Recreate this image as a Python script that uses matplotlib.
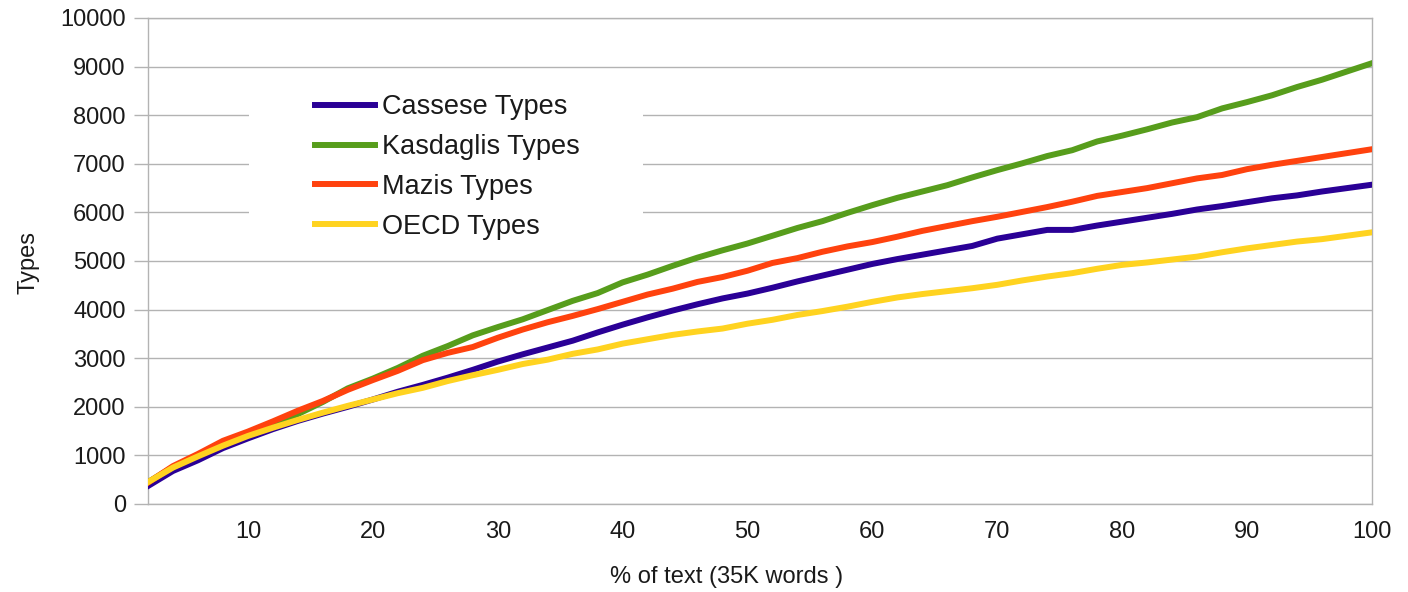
import matplotlib
matplotlib.use("Agg")
import matplotlib.pyplot as plt
from matplotlib.patches import Rectangle

plt.rcParams['font.family'] = ['Liberation Sans', 'DejaVu Sans']

x_pct = list(range(2, 101, 2))

cassese = [370, 680, 900, 1150, 1350, 1540, 1710, 1860, 2000, 2150,
           2310, 2450, 2600, 2760, 2930, 3080, 3220, 3360, 3530, 3690,
           3840, 3980, 4110, 4230, 4330, 4450, 4580, 4700, 4820, 4940,
           5040, 5130, 5220, 5310, 5460, 5550, 5640, 5640, 5730, 5810,
           5890, 5970, 6060, 6130, 6210, 6290, 6350, 6430, 6500, 6570]

kasdaglis = [450, 760, 1000, 1250, 1450, 1650, 1850, 2100, 2380, 2580,
             2800, 3050, 3250, 3470, 3640, 3800, 3990, 4180, 4340, 4560,
             4720, 4900, 5070, 5220, 5360, 5520, 5680, 5820, 5990, 6150,
             6300, 6430, 6560, 6720, 6870, 7010, 7160, 7280, 7460, 7580,
             7710, 7850, 7960, 8140, 8270, 8410, 8580, 8730, 8900, 9070]

mazis = [440, 780, 1030, 1300, 1490, 1700, 1920, 2120, 2350, 2550,
         2740, 2960, 3110, 3230, 3420, 3590, 3740, 3870, 4010, 4160,
         4310, 4430, 4570, 4670, 4800, 4960, 5060, 5190, 5300, 5390,
         5500, 5620, 5720, 5820, 5910, 6010, 6110, 6220, 6340, 6420,
         6500, 6600, 6700, 6770, 6890, 6980, 7060, 7140, 7220, 7300]

oecd = [450, 750, 980, 1200, 1400, 1570, 1730, 1880, 2020, 2150,
        2280, 2390, 2530, 2650, 2760, 2880, 2970, 3090, 3180, 3300,
        3390, 3480, 3550, 3610, 3710, 3790, 3890, 3970, 4060, 4160,
        4250, 4320, 4380, 4440, 4510, 4600, 4680, 4750, 4840, 4920,
        4970, 5030, 5090, 5180, 5260, 5330, 5400, 5450, 5520, 5590]

series_names = ["Cassese Types", "Kasdaglis Types", "Mazis Types", "OECD Types"]
series_colors = ["#2a0096", "#579d1c", "#ff420e", "#ffd320"]
x_ticks = [10, 20, 30, 40, 50, 60, 70, 80, 90, 100]
y_ticks = list(range(0, 10001, 1000))

fig = plt.figure(figsize=(14.08, 5.92), dpi=100)
ax = fig.add_axes([148/1408, 1 - 504/592, 1224/1408, 486/592])

for vals, name, col in zip([cassese, kasdaglis, mazis, oecd], series_names, series_colors):
    ax.plot(x_pct, vals, color=col, lw=4.3, label=name, solid_joinstyle='round', zorder=3)

ax.set_xlim(2, 100)
ax.set_ylim(0, 10000)
ax.set_xticks(x_ticks)
ax.set_yticks(y_ticks)
ax.tick_params(axis='x', length=0, pad=12, labelsize=17, colors='#1a1a1a')
ax.tick_params(axis='y', length=10, width=1, color='#b3b3b3', pad=6, labelsize=17, labelcolor='#1a1a1a')
ax.grid(axis='y', color='#b3b3b3', lw=1)
ax.set_axisbelow(True)
for s in ax.spines.values():
    s.set_color('#b3b3b3')
    s.set_linewidth(1)

# white legend background area
ax.add_patch(Rectangle((0.0825, 0.543), 0.322, 0.329, transform=ax.transAxes,
                       facecolor='white', edgecolor='none', zorder=1.5))

leg = ax.legend(loc='upper left', bbox_to_anchor=(0.1364, 0.843), frameon=False,
                fontsize=19.5, handlelength=2.2, handletextpad=0.26, labelspacing=0.51,
                borderpad=0, borderaxespad=0)
for t in leg.get_texts():
    t.set_color('#1a1a1a')

fig.text(28/1408, 1 - 262/592, "Types", rotation=90, ha='center', va='center', fontsize=17, color='#1a1a1a')
fig.text(727/1408, 1 - 577/592, "% of text (35K words )", ha='center', va='center', fontsize=17, color='#1a1a1a')

fig.savefig("out.png", dpi=100, facecolor='white')
